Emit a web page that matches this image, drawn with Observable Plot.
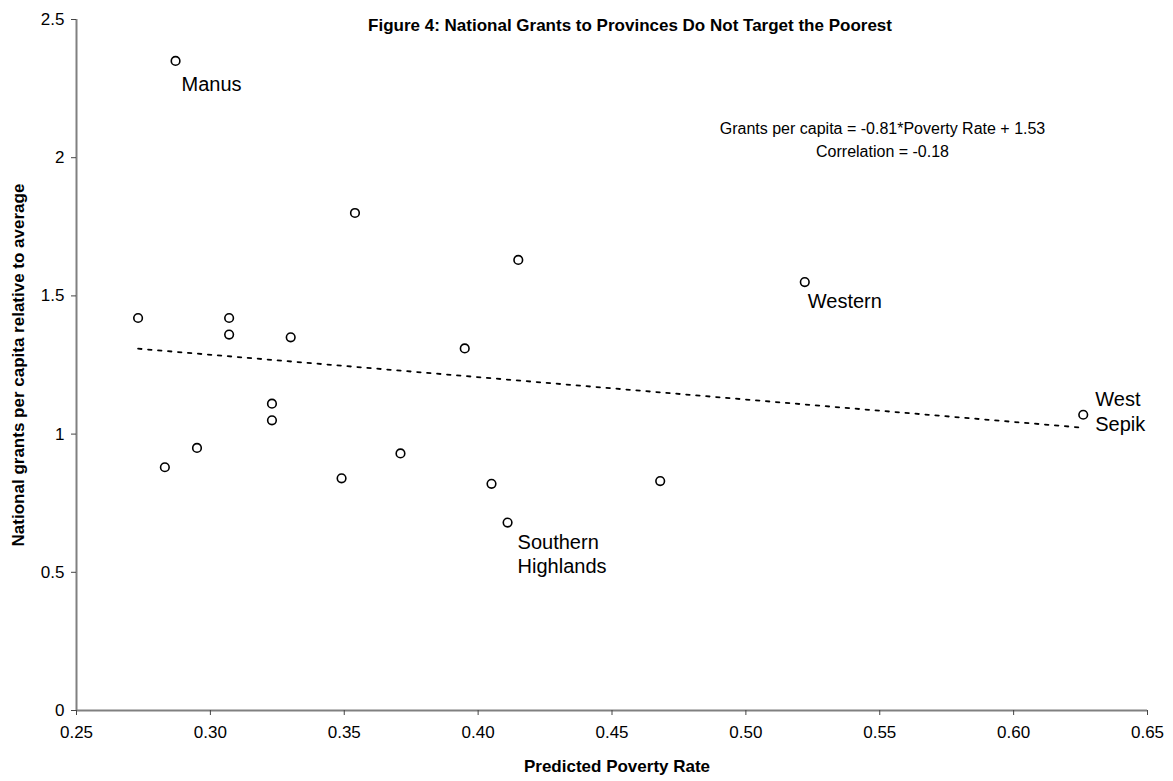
<!DOCTYPE html>
<html><head><meta charset="utf-8">
<script src="https://cdn.jsdelivr.net/npm/d3@7"></script>
<script src="https://cdn.jsdelivr.net/npm/@observablehq/plot@0.6"></script>
<style>body{margin:0;background:#fff}</style>
</head><body><div id="chart"></div>
<script>
// ---- data ----
const povertyRate     = [0.287, 0.354, 0.273, 0.307, 0.307, 0.330, 0.323, 0.323, 0.295, 0.283, 0.371, 0.349, 0.415, 0.395, 0.405, 0.411, 0.468, 0.522, 0.626];
const grantsPerCapita = [2.35, 1.80, 1.42, 1.42, 1.36, 1.35, 1.11, 1.05, 0.95, 0.88, 0.93, 0.84, 1.63, 1.31, 0.82, 0.68, 0.83, 1.55, 1.07];
const provinceLabels  = ["Manus", "", "", "", "", "", "", "", "", "", "", "", "", "", "", "Southern\nHighlands", "", "Western", "West\nSepik"];
const xTicks = [0.25, 0.30, 0.35, 0.40, 0.45, 0.50, 0.55, 0.60, 0.65];
const yTicks = [0, 0.5, 1, 1.5, 2, 2.5];
const trendSlope = -0.81;
const trendIntercept = 1.53;
const correlation = -0.18;
const titleText = "Figure 4: National Grants to Provinces Do Not Target the Poorest";
const xLabel = "Predicted Poverty Rate";
const yLabel = "National grants per capita relative to average";

// ---- build ----
const data = povertyRate.map((x, i) => ({x, y: grantsPerCapita[i], label: provinceLabels[i]}));
const [xMin, xMax] = d3.extent(povertyRate);
const trend = [xMin, xMax].map(x => ({x, y: trendSlope * x + trendIntercept}));
const eqLines = [
  `Grants per capita = ${trendSlope}*Poverty Rate + ${trendIntercept}`,
  `Correlation = ${correlation}`
];
const font = "Liberation Sans, Arial, Helvetica, sans-serif";
const lab = name => data.filter(d => d.label === name);

const chart = Plot.plot({
  width: 1173, height: 781,
  marginLeft: 76, marginRight: 26, marginTop: 19, marginBottom: 71,
  style: {fontFamily: font, fontSize: "17px", color: "#000", background: "#fff"},
  x: {domain: [0.25, 0.65]},
  y: {domain: [0, 2.5]},
  marks: [
    Plot.ruleY([0], {stroke: "#808080", strokeWidth: 2}),
    Plot.ruleX([0.25], {stroke: "#808080", strokeWidth: 2}),
    Plot.axisX({ticks: xTicks, tickFormat: d3.format(".2f"), tickSize: 5, tickPadding: 10, stroke: "#444", fontSize: 17, label: null}),
    Plot.axisY({ticks: yTicks, tickFormat: d => String(d), tickSize: 5, tickPadding: 7, stroke: "#444", fontSize: 17, label: null}),
    Plot.line(trend, {x: "x", y: "y", stroke: "#000", strokeWidth: 1.8, strokeDasharray: "3.5,6.5"}),
    Plot.dot(data, {x: "x", y: "y", r: 4.3, stroke: "#000", strokeWidth: 1.6, fill: "#fff"}),
    Plot.text(lab("Manus"), {x: "x", y: "y", text: "label", textAnchor: "start", dx: 6, dy: 24, fontSize: 20}),
    Plot.text(lab("Western"), {x: "x", y: "y", text: "label", textAnchor: "start", dx: 3, dy: 20, fontSize: 20}),
    Plot.text(lab("West\nSepik"), {x: "x", y: "y", text: "label", textAnchor: "start", dx: 12, dy: -4, fontSize: 20, lineHeight: 1.25}),
    Plot.text(lab("Southern\nHighlands"), {x: "x", y: "y", text: "label", textAnchor: "start", dx: 10, dy: 31, fontSize: 20, lineHeight: 1.2}),
    Plot.text([eqLines.join("\n")], {frameAnchor: "top-left", dx: 806, dy: 99, textAnchor: "middle", fontSize: 16, lineHeight: 1.4}),
    Plot.text([titleText], {frameAnchor: "top", dx: 18, dy: 6, lineAnchor: "middle", fontSize: 17, fontWeight: "bold"}),
    Plot.text([xLabel], {frameAnchor: "bottom", dx: 5, dy: 56, lineAnchor: "middle", fontSize: 17, fontWeight: "bold"}),
    Plot.text([yLabel], {frameAnchor: "left", dx: -58, rotate: -90, textAnchor: "middle", lineAnchor: "middle", fontSize: 17, fontWeight: "bold"})
  ]
});
document.getElementById("chart").append(chart);
</script>
</body></html>
